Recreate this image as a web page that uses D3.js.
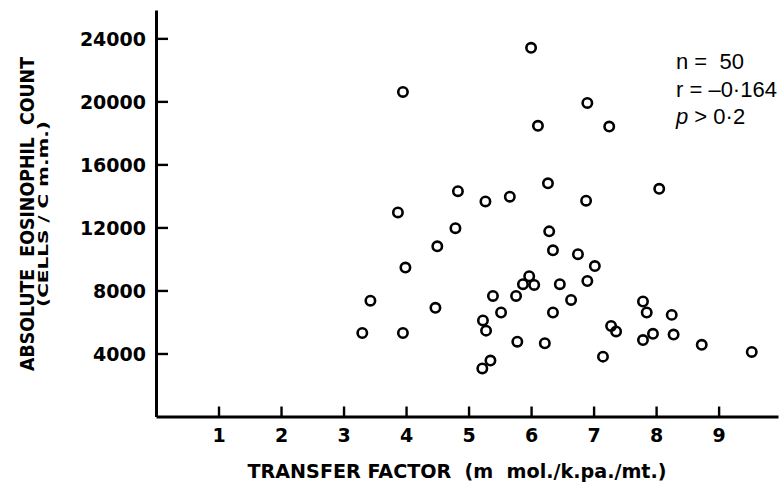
<!DOCTYPE html>
<html>
<head>
    <meta charset="utf-8">
    <style>
        body { margin: 0; background: #fff; }
        svg text { fill: #000; white-space: pre; }
    </style>
</head>
<body>
    <svg width="779" height="485"></svg>
    <script src="https://d3js.org/d3.v7.min.js"></script>
    <script>
        // transfer factor (m mol/k.pa/mt) vs absolute eosinophil count (cells/c mm)
        let transferFactor = [6.00, 3.95, 6.90, 6.11, 7.25, 6.27, 8.05, 4.83, 5.66, 5.27,
                              6.88, 3.87, 4.79, 6.29, 4.50, 6.35, 6.75, 3.99, 7.02, 3.43,
                              4.47, 3.30, 3.95, 5.39, 5.76, 5.87, 5.97, 6.05, 6.46, 6.90,
                              6.64, 6.35, 5.52, 5.23, 5.28, 5.78, 6.22, 5.35, 5.22, 7.79,
                              7.85, 8.25, 7.28, 7.36, 7.95, 7.79, 8.28, 8.73, 7.15, 9.53];
        let eosinophils = [23400, 20600, 19900, 18450, 18400, 14800, 14450, 14300, 13950, 13650,
                           13700, 12950, 11950, 11750, 10800, 10550, 10300, 9450, 9550, 7350,
                           6900, 5300, 5300, 7650, 7650, 8400, 8900, 8350, 8400, 8600,
                           7400, 6600, 6600, 6100, 5450, 4750, 4650, 3550, 3050, 7300,
                           6600, 6450, 5750, 5400, 5250, 4850, 5200, 4550, 3800, 4100];
        let xTicks = [1, 2, 3, 4, 5, 6, 7, 8, 9];
        let yTicks = [4000, 8000, 12000, 16000, 20000, 24000];
        // each line: [italic part, upright part]
        let statLines = [["", "n =  50"], ["", "r = \u20130\u00b7164"], ["p", " > 0\u00b72"]];

        let points = transferFactor.map(function(d, i) {
            return {tf: d, count: eosinophils[i]};
        });

        let svg = d3.select("svg");
        let x = d3.scaleLinear().domain([0, 9.95]).range([156, 778]);
        let y = d3.scaleLinear().domain([0, 25800]).range([416.5, 10]);

        // axes
        let xAxis = svg.append("g")
            .attr("transform", "translate(0," + y(0) + ")")
            .call(d3.axisBottom(x).tickValues(xTicks).tickSize(-10).tickSizeOuter(0)
                .tickPadding(12).tickFormat(d3.format("d")));
        let yAxis = svg.append("g")
            .attr("transform", "translate(" + x(0) + ",0)")
            .call(d3.axisLeft(y).tickValues(yTicks).tickSize(-12).tickSizeOuter(0)
                .tickPadding(10).tickFormat(d3.format("d")));

        svg.selectAll(".domain").attr("stroke", "#000").attr("stroke-width", 3);
        svg.selectAll(".tick line").attr("stroke", "#000").attr("stroke-width", 2.4);
        svg.selectAll(".tick text")
            .attr("font-family", "DejaVu Sans")
            .attr("font-weight", "bold")
            .attr("font-size", 19)
            .attr("fill", "#000");
        yAxis.selectAll(".tick text").attr("dy", "0.36em");

        // points
        svg.append("g").selectAll("circle")
            .data(points)
            .enter()
            .append("circle")
            .attr("cx", function(d) { return x(d.tf); })
            .attr("cy", function(d) { return y(d.count); })
            .attr("r", 4.7)
            .attr("fill", "none")
            .attr("stroke", "#000")
            .attr("stroke-width", 2.6);

        // axis titles
        svg.append("text")
            .attr("x", 457).attr("y", 478)
            .attr("text-anchor", "middle")
            .attr("font-family", "DejaVu Sans")
            .attr("font-weight", "bold")
            .attr("font-size", 19)
            .attr("textLength", 419)
            .attr("lengthAdjust", "spacingAndGlyphs")
            .text("TRANSFER FACTOR  (m  mol./k.pa./mt.)");

        let yTitle = svg.append("g").attr("transform", "translate(34,214) rotate(-90)");
        yTitle.append("text")
            .attr("text-anchor", "middle")
            .attr("font-family", "DejaVu Sans")
            .attr("font-weight", "bold")
            .attr("font-size", 19)
            .attr("textLength", 314)
            .attr("lengthAdjust", "spacingAndGlyphs")
            .text("ABSOLUTE  EOSINOPHIL  COUNT");
        yTitle.append("text")
            .attr("y", 14)
            .attr("text-anchor", "middle")
            .attr("font-family", "DejaVu Sans")
            .attr("font-weight", "bold")
            .attr("font-size", 13.5)
            .attr("textLength", 186)
            .attr("lengthAdjust", "spacingAndGlyphs")
            .text("(CELLS / C m.m.)");

        // statistics note
        let notes = svg.append("g").selectAll("text")
            .data(statLines)
            .enter()
            .append("text")
            .attr("x", 676)
            .attr("y", function(d, i) { return 69 + i * 27.5; })
            .attr("font-family", "Liberation Sans")
            .attr("font-size", 22);
        notes.append("tspan")
            .attr("font-style", "italic")
            .text(function(d) { return d[0]; });
        notes.append("tspan")
            .text(function(d) { return d[1]; });
    </script>
</body>
</html>
